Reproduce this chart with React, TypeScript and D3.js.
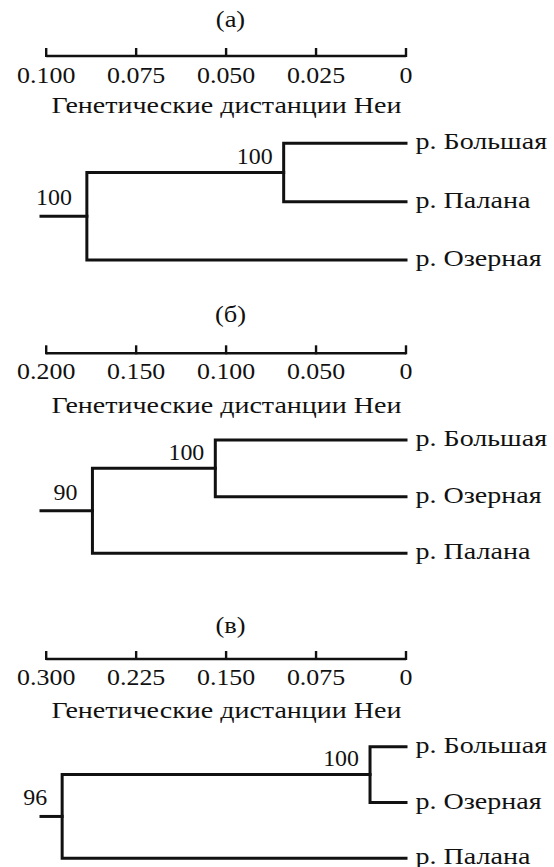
import React from 'react';
import * as d3 from 'd3';

// panel data: (а), (б), (в)
const panelTitles = ['(а)', '(б)', '(в)'];
const axisMax = [0.1, 0.2, 0.3];
const tickValues = [
  [0.1, 0.075, 0.05, 0.025, 0],
  [0.2, 0.15, 0.1, 0.05, 0],
  [0.3, 0.225, 0.15, 0.075, 0],
];
const axisLabel = 'Генетические дистанции Неи';

// leaves in drawing order (first two joined at the inner node)
const leavesA = ['р. Большая', 'р. Палана', 'р. Озерная'];
const leavesB = ['р. Большая', 'р. Озерная', 'р. Палана'];
const leavesC = ['р. Большая', 'р. Озерная', 'р. Палана'];
const leaves = [leavesA, leavesB, leavesC];

// node heights (Nei distance) and bootstrap support
const innerHeight = [0.034, 0.106, 0.030];
const rootHeight = [0.0887, 0.1743, 0.2867];
const bootInner = [100, 100, 100];
const bootRoot = [100, 90, 96];

// layout (pixels)
const X0 = 46.2, X1 = 406;
const STUB_X = 41;
const layout = [
  { title: 27, axis: 56, tickLab: 83, axLab: 113, leafTop: 143.3, leafBot: 260 },
  { title: 321.7, axis: 353.3, tickLab: 379.3, axLab: 413.3, leafTop: 440, leafBot: 553.3 },
  { title: 633.3, axis: 659, tickLab: 685, axLab: 718.3, leafTop: 746.7, leafBot: 858.3 },
];
const serif = { fontFamily: "'Liberation Serif'" };

// text drawn with a horizontal stretch (the original face is wider than Liberation Serif)
function T({ x, y, sx, size, anchor, children }: { x: number; y: number; sx: number; size: number; anchor?: string; children: React.ReactNode }) {
  return (
    <text style={serif} transform={`translate(${x},${y}) scale(${sx},1)`} fontSize={size} textAnchor={anchor || 'start'}>
      {children}
    </text>
  );
}

function Panel({ i }: { i: number }) {
  const L = layout[i];
  const x = d3.scaleLinear().domain([axisMax[i], 0]).range([X0, X1]);
  const y = d3.scalePoint<string>().domain(leaves[i]).range([L.leafTop, L.leafBot]);
  const fmt = (d: number) => (d === 0 ? '0' : d3.format('.3f')(d));

  const [l1, l2, l3] = leaves[i];
  const xi = x(innerHeight[i]);
  const xr = x(rootHeight[i]);
  const yi = ((y(l1) as number) + (y(l2) as number)) / 2;
  const yr = (yi + (y(l3) as number)) / 2;

  const line = d3.line();
  const paths: [number, number][][] = [
    [[x(0), y(l1) as number], [xi, y(l1) as number], [xi, y(l2) as number], [x(0), y(l2) as number]],
    [[xi, yi], [xr, yi], [xr, y(l3) as number], [x(0), y(l3) as number]],
    [[STUB_X, yr], [xr, yr]],
  ];

  return (
    <g fill="#111">
      <T x={230.5} y={L.title} sx={1.1} size={24} anchor="middle">{panelTitles[i]}</T>
      <path d={`M${X0},${L.axis}H${X1}`} fill="none" stroke="#111" strokeWidth={2.6} />
      {tickValues[i].map((t) => (
        <g key={t}>
          <line x1={x(t)} x2={x(t)} y1={L.axis - 8} y2={L.axis + 1} stroke="#111" strokeWidth={2.4} />
          <T x={x(t)} y={L.tickLab} sx={1.08} size={24} anchor="middle">{fmt(t)}</T>
        </g>
      ))}
      <text style={serif} x={226.4} y={L.axLab} fontSize={24} textAnchor="middle" textLength={350} lengthAdjust="spacingAndGlyphs">{axisLabel}</text>
      {paths.map((p, k) => (
        <path key={k} d={line(p) as string} fill="none" stroke="#111" strokeWidth={3} strokeLinecap="square" strokeLinejoin="miter" />
      ))}
      {leaves[i].map((name) => (
        <T key={name} x={X1 + 9.5} y={(y(name) as number) + 6} sx={1.22} size={23}>{name}</T>
      ))}
      <T x={xi - 11} y={yi - 8.5} sx={1.04} size={23} anchor="end">{bootInner[i]}</T>
      <T x={xr - 15} y={yr - 11} sx={1.04} size={23} anchor="end">{bootRoot[i]}</T>
    </g>
  );
}

export default function App() {
  return (
    <svg width={554} height={867} style={{ position: 'absolute', left: 0, top: 0, background: '#fff' }}>
      <rect width={554} height={867} fill="#fff" />
      {[0, 1, 2].map((i) => (
        <Panel key={i} i={i} />
      ))}
    </svg>
  );
}
